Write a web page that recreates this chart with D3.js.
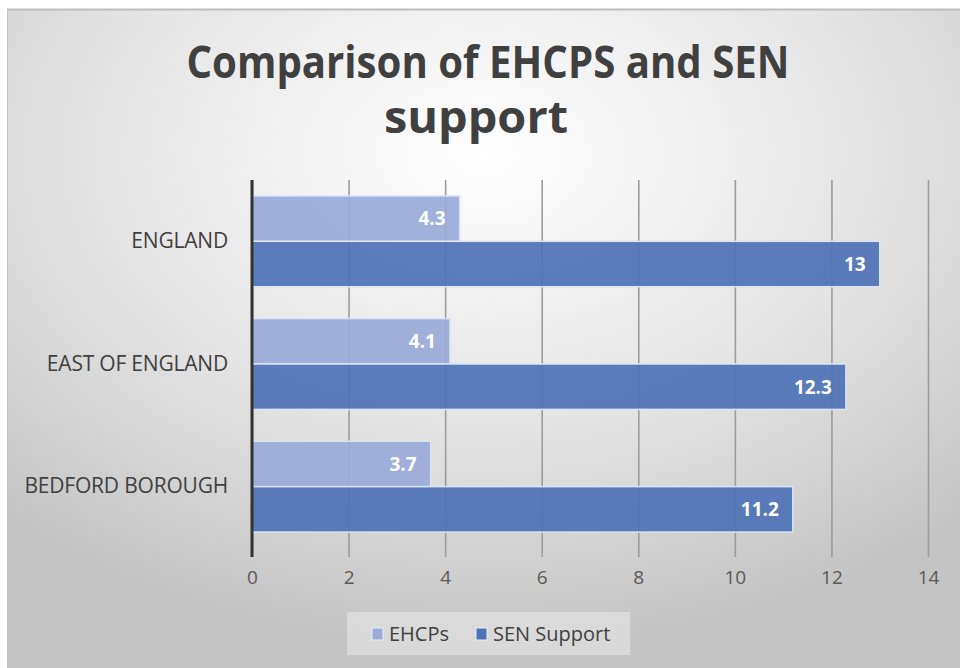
<!DOCTYPE html>
<meta charset="utf-8">
<head>
  <style>
    body { margin: 0; background: #fff; }
    .tick text { font-family: "Open Sans", sans-serif; }
  </style>
</head>
<body>
<svg id="chart"></svg>
<script src="https://d3js.org/d3.v7.min.js"></script>
<script>
// data
var categories = ["ENGLAND", "EAST OF ENGLAND", "BEDFORD BOROUGH"];
var seriesNames = ["EHCPs", "SEN Support"];
var ehcps = [4.3, 4.1, 3.7];
var senSupport = [13, 12.3, 11.2];
var xTicks = [0, 2, 4, 6, 8, 10, 12, 14];
var colors = ["#9aabd8", "#4f73b6"];

var W = 960, H = 668;
var margin = {top: 180, right: 32, bottom: 120, left: 252};
var width = W - margin.left - margin.right,
    height = H - margin.top - margin.bottom;

var svg = d3.select("#chart").attr("width", W).attr("height", H);

// background with soft radial shading
var defs = svg.append("defs");
var grad = defs.append("radialGradient").attr("id", "bg")
    .attr("cx", "0.5").attr("cy", "0.22").attr("r", "0.75");
grad.append("stop").attr("offset", "0").attr("stop-color", "#ffffff");
grad.append("stop").attr("offset", "0.55").attr("stop-color", "#e4e4e4");
grad.append("stop").attr("offset", "1").attr("stop-color", "#c4c4c4");

svg.append("rect")
    .attr("x", 7).attr("y", 9).attr("width", W - 7).attr("height", H - 9)
    .attr("fill", "url(#bg)");
svg.append("line").attr("x1", 7).attr("x2", W).attr("y1", 9.5).attr("y2", 9.5)
    .attr("stroke", "#bdbdbd").attr("stroke-width", 2);
svg.append("line").attr("x1", 7.5).attr("x2", 7.5).attr("y1", 9).attr("y2", H)
    .attr("stroke", "#c4c4c4").attr("stroke-width", 1);

// title
var title = svg.append("text")
    .attr("text-anchor", "middle")
    .attr("font-family", "'Open Sans', sans-serif")
    .attr("font-weight", 700)
    .attr("font-size", 44)
    .attr("fill", "#404040");
title.append("tspan").attr("x", 488).attr("y", 78)
    .attr("textLength", 603).attr("lengthAdjust", "spacingAndGlyphs")
    .text("Comparison of EHCPS and SEN");
title.append("tspan").attr("x", 476).attr("y", 133)
    .attr("textLength", 184).attr("lengthAdjust", "spacingAndGlyphs")
    .text("support");

var g = svg.append("g")
    .attr("transform", "translate(" + margin.left + "," + margin.top + ")");

var x = d3.scaleLinear().domain([0, 14]).range([0, width]);
var y = d3.scaleBand().domain(categories).range([0, height]).paddingInner(0.26).paddingOuter(0.13);
var ySub = d3.scaleBand().domain(seriesNames).range([0, y.bandwidth()]);

// gridlines + ticks below
g.append("g")
    .attr("transform", "translate(0," + height + ")")
    .call(d3.axisBottom(x).tickValues(xTicks).tickSize(height + 9).tickSizeOuter(0))
    .call(function(a) {
      a.select(".domain").remove();
      a.selectAll(".tick line")
        .attr("transform", "translate(0," + (-height) + ")")
        .attr("stroke", "#9c9c9c").attr("stroke-width", 1.6);
      a.selectAll(".tick text")
        .attr("y", 36).attr("dy", "0")
        .attr("font-size", 19).attr("fill", "#595959");
    });

// bars
var rows = categories.map(function(c, i) {
  return {cat: c, values: [ehcps[i], senSupport[i]]};
});

var groups = g.selectAll(".grp").data(rows).enter().append("g")
    .attr("transform", function(d) { return "translate(0," + y(d.cat) + ")"; });

var bars = groups.selectAll("g.bar").data(function(d) {
  return d.values.map(function(v, j) { return {name: seriesNames[j], v: v, j: j}; });
}).enter().append("g").attr("class", "bar");

bars.append("rect")
    .attr("x", 0)
    .attr("y", function(d) { return ySub(d.name); })
    .attr("width", function(d) { return x(d.v); })
    .attr("height", ySub.bandwidth())
    .attr("fill", function(d) { return colors[d.j]; })
    .attr("fill-opacity", 0.93)
    .attr("stroke", "#dbe3f3")
    .attr("stroke-width", 1.5);

bars.append("text")
    .attr("x", function(d) { return x(d.v) - 14; })
    .attr("y", function(d) { return ySub(d.name) + ySub.bandwidth() / 2; })
    .attr("dy", "0.36em")
    .attr("text-anchor", "end")
    .attr("font-family", "'Open Sans', sans-serif")
    .attr("font-weight", 700)
    .attr("font-size", 19)
    .attr("fill", "#ffffff")
    .text(function(d) { return d.v; });

// category axis
g.append("g")
    .call(d3.axisLeft(y).tickSize(0).tickPadding(24))
    .call(function(a) {
      a.select(".domain").remove();
      a.selectAll(".tick text").attr("font-size", 21).attr("fill", "#404040")
        .attr("letter-spacing", "-0.2");
    });

g.append("line")
    .attr("x1", 0).attr("x2", 0).attr("y1", 0).attr("y2", height + 9)
    .attr("stroke", "#333333").attr("stroke-width", 3);

// legend
var legend = svg.append("g").attr("transform", "translate(347,612)");
legend.append("rect").attr("width", 283).attr("height", 43)
    .attr("fill", "#ffffff").attr("fill-opacity", 0.35);
var legX = [25, 129];
var items = legend.selectAll(".li").data(seriesNames).enter().append("g")
    .attr("transform", function(d, i) { return "translate(" + legX[i] + ",16)"; });
items.append("rect").attr("width", 11).attr("height", 12)
    .attr("fill", function(d, i) { return colors[i]; })
    .attr("stroke", "#e8ecf6").attr("stroke-width", 1);
items.append("text").attr("x", 17).attr("y", 13)
    .attr("font-family", "'Open Sans', sans-serif")
    .attr("font-size", 20).attr("fill", "#404040")
    .text(function(d) { return d; });
</script>
</body>
